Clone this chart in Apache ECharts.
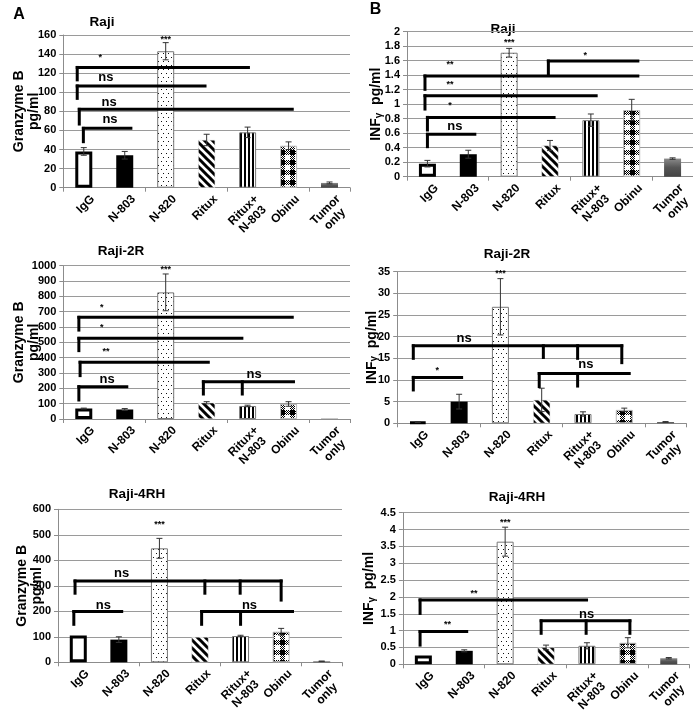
<!DOCTYPE html>
<html><head><meta charset="utf-8">
<script src="https://cdn.jsdelivr.net/npm/echarts@6/dist/echarts.min.js"></script>
<style>html,body{margin:0;padding:0;background:#fff}#c{width:693px;height:717px}</style>
</head><body><div id="c"></div>
<script>
const categories = ['IgG','N-803','N-820','Ritux','Ritux+\nN-803','Obinu','Tumor\nonly'];

// ---- Panel A: Granzyme B (pg/ml) ----
const gzbRajiValues = [38, 34, 143, 50, 58, 44, 5];
const gzbRajiErrors = [4, 4, 9, 6, 5.5, 4, 1];
const gzbRajiTicks = [0, 20, 40, 60, 80, 100, 120, 140, 160];
const gzbRajiBrackets = [
  {x1:-0.16, x2:4.02, y:126, drops:[[-0.16,113]], text:'*', tx:0.40, ty:136.6},
  {x1:-0.16, x2:2.96, y:106.6, drops:[[-0.16,93.6]], text:'ns', tx:0.54, ty:115.6},
  {x1:-0.11, x2:5.09, y:82.1, drops:[[-0.11,66.7]], text:'ns', tx:0.62, ty:89},
  {x1:-0.01, x2:1.15, y:62.2, drops:[[-0.01,48.2]], text:'ns', tx:0.64, ty:71.6},
  {text:'***', tx:2, ty:155.5}
];

const gzb2RValues = [68, 62, 826, 106, 85, 98, 3];
const gzb2RErrors = [3, 6, 120, 7, 5, 15, 0];
const gzb2RTicks = [0, 100, 200, 300, 400, 500, 600, 700, 800, 900, 1000];
const gzb2RBrackets = [
  {x1:-0.12, x2:5.09, y:663, drops:[[-0.12,580]], text:'*', tx:0.44, ty:728},
  {x1:-0.12, x2:3.86, y:526, drops:[[-0.12,446]], text:'*', tx:0.44, ty:598},
  {x1:-0.09, x2:3.04, y:370, drops:[[-0.09,283]], text:'**', tx:0.54, ty:439},
  {x1:-0.12, x2:1.05, y:211, drops:[[-0.12,124]], text:'ns', tx:0.57, ty:261},
  {x1:2.92, x2:5.12, y:243, drops:[[2.92,163],[3.87,163]], text:'ns', tx:4.16, ty:293},
  {text:'***', tx:2, ty:972}
];

const gzb4RHValues = [105, 89, 447, 99, 103, 120, 4];
const gzb4RHErrors = [0, 11, 39, 0, 3, 13, 1];
const gzb4RHTicks = [0, 100, 200, 300, 400, 500, 600];
const gzb4RHBrackets = [
  {x1:-0.08, x2:5.0, y:319, drops:[[-0.08,271],[3.12,271],[3.99,271],[5.0,244]], text:'ns', tx:1.07, ty:349},
  {x1:-0.11, x2:1.07, y:199, drops:[[-0.11,149]], text:'ns', tx:0.62, ty:225},
  {x1:3.04, x2:5.28, y:199, drops:[[3.04,149],[4.0,149]], text:'ns', tx:4.22, ty:225},
  {text:'***', tx:2, ty:539}
];

// ---- Panel B: INFγ (pg/ml) ----
const ifnRajiValues = [0.18, 0.31, 1.71, 0.43, 0.78, 0.92, 0.25];
const ifnRajiErrors = [0.045, 0.055, 0.06, 0.07, 0.085, 0.147, 0.01];
const ifnRajiTicks = [0, 0.2, 0.4, 0.6, 0.8, 1, 1.2, 1.4, 1.6, 1.8, 2];
const ifnRajiBrackets = [
  {x1:2.96, x2:5.15, y:1.595, drops:[[2.96,1.416]], text:'*', tx:3.86, ty:1.678},
  {x1:-0.06, x2:5.15, y:1.389, drops:[[-0.06,1.205]], text:'**', tx:0.55, ty:1.549},
  {x1:-0.06, x2:4.13, y:1.117, drops:[[-0.06,0.933]], text:'**', tx:0.55, ty:1.274},
  {x1:0.0, x2:3.10, y:0.818, drops:[[0.0,0.644]], text:'*', tx:0.55, ty:0.975},
  {x1:0.0, x2:1.16, y:0.584, drops:[[0.0,0.414]], text:'ns', tx:0.67, ty:0.699},
  {text:'***', tx:2, ty:1.848}
];

const ifn2RValues = [0.3, 5.0, 26.9, 5.4, 2.15, 3.1, 0.3];
const ifn2RErrors = [0.1, 1.7, 6.5, 2.7, 0.5, 0.4, 0.1];
const ifn2RTicks = [0, 5, 10, 15, 20, 25, 30, 35];
const ifn2RBrackets = [
  {x1:-0.11, x2:4.94, y:17.9, drops:[[-0.11,15.0],[3.04,15.2],[3.87,15.0],[4.94,14.0]], text:'ns', tx:1.12, ty:19.6},
  {x1:-0.11, x2:1.06, y:10.6, drops:[[-0.11,7.7]], text:'*', tx:0.47, ty:12.3},
  {x1:2.94, x2:5.12, y:11.5, drops:[[2.94,8.5],[3.87,8.6]], text:'ns', tx:4.07, ty:13.5},
  {text:'***', tx:2, ty:34.6}
];

const ifn4RHValues = [0.26, 0.40, 3.64, 0.50, 0.55, 0.64, 0.18];
const ifn4RHErrors = [0, 0.03, 0.43, 0.07, 0.09, 0.15, 0.02];
const ifn4RHTicks = [0, 0.5, 1, 1.5, 2, 2.5, 3, 3.5, 4, 4.5];
const ifn4RHBrackets = [
  {x1:-0.08, x2:3.99, y:1.91, drops:[[-0.08,1.51]], text:'**', tx:1.24, ty:2.11},
  {x1:-0.08, x2:1.06, y:0.97, drops:[[-0.08,0.57]], text:'**', tx:0.59, ty:1.17},
  {x1:2.88, x2:5.05, y:1.29, drops:[[2.88,0.92],[3.98,0.92],[5.05,0.92]], text:'ns', tx:3.99, ty:1.48},
  {text:'***', tx:2, ty:4.21}
];

const FONT = 'Liberation Sans, Arial, Helvetica, sans-serif';

// ---------- patterns ----------
function mk(w, h, draw){ const c=document.createElement('canvas'); c.width=w; c.height=h; const g=c.getContext('2d'); g.fillStyle='#fff'; g.fillRect(0,0,w,h); draw(g); return {image:c, repeat:'repeat'}; }
const dots = mk(5, 8, g=>{ g.fillStyle='#111'; g.fillRect(1,1,1,1); g.fillRect(3,5,1,1); });
const diag = mk(8, 8, g=>{ g.strokeStyle='#000'; g.lineWidth=3; g.beginPath(); g.moveTo(-2,-2); g.lineTo(10,10); g.moveTo(-2,6); g.lineTo(2,10); g.moveTo(6,-2); g.lineTo(10,2); g.stroke(); });
const vstripe = mk(4, 4, g=>{ g.fillStyle='#000'; g.fillRect(0,0,2,4); });
const gingham = mk(10, 10, g=>{
  g.fillStyle='#000'; g.fillRect(0,0,5,5);
  for(let y=0;y<10;y++) for(let x=0;x<10;x++){
    const inA = (x<5 && y>=5) || (x>=5 && y<5);
    if(inA && ((x+y)%2===0)) g.fillRect(x,y,1,1);
  }
});
const tumorGrad = new echarts.graphic.LinearGradient(0,0,0,1,[{offset:0,color:'#8a8a8a'},{offset:0.5,color:'#555'},{offset:1,color:'#444'}]);
const barStyles = [
  {color:'#fff', borderColor:'#000', borderWidth:3},
  {color:'#000'},
  {color:dots, borderColor:'#777', borderWidth:1},
  {color:diag, borderColor:'#ddd', borderWidth:0.5},
  {color:vstripe, borderColor:'#777', borderWidth:1},
  {color:gingham, borderColor:'#bbb', borderWidth:1},
  {color:tumorGrad}
];

const gzbName = 'Granzyme B\npg/ml';
const ifnName = 'INF{g|γ}  pg/ml';

const panels = [
  {values:gzbRajiValues, errors:gzbRajiErrors, ticks:gzbRajiTicks, brackets:gzbRajiBrackets, name:gzbName, title:'Raji'},
  {values:ifnRajiValues, errors:ifnRajiErrors, ticks:ifnRajiTicks, brackets:ifnRajiBrackets, name:ifnName, title:'Raji'},
  {values:gzb2RValues, errors:gzb2RErrors, ticks:gzb2RTicks, brackets:gzb2RBrackets, name:gzbName, title:'Raji-2R'},
  {values:ifn2RValues, errors:ifn2RErrors, ticks:ifn2RTicks, brackets:ifn2RBrackets, name:ifnName, title:'Raji-2R'},
  {values:gzb4RHValues, errors:gzb4RHErrors, ticks:gzb4RHTicks, brackets:gzb4RHBrackets, name:gzbName, title:'Raji-4RH'},
  {values:ifn4RHValues, errors:ifn4RHErrors, ticks:ifn4RHTicks, brackets:ifn4RHBrackets, name:ifnName, title:'Raji-4RH'}
];

// layout (pixels)
const layouts = [
  {left:63.3, top:35, width:286.7, height:152.7, gap:22, tx:102, ty:22.5},
  {left:407, top:31.7, width:286, height:145, gap:23, tx:503, ty:29},
  {left:63.3, top:265.7, width:286.7, height:153.3, gap:22, tx:121, ty:251.5},
  {left:397.2, top:271.7, width:289, height:151.6, gap:17.5, tx:507, ty:254.5},
  {left:58, top:509.3, width:284, height:153, gap:13, tx:137, ty:494},
  {left:402.9, top:512.7, width:286.3, height:151.6, gap:26, tx:517, ty:497}
];

// text measuring for centred multi-line category labels
const mctx = document.createElement('canvas').getContext('2d');
mctx.font = 'bold 12px "Liberation Sans", Arial, sans-serif';
const LABEL_LH = 13;

const grid=[], xAxis=[], yAxis=[], series=[], graphics=[];
const axisGray = '#8c8c8c';
panels.forEach((p, i) => {
  const L = layouts[i];
  grid.push({left:L.left, top:L.top, width:L.width, height:L.height, containLabel:false});
  xAxis.push({gridIndex:i, type:'category', data:categories,
    axisLine:{onZero:false, lineStyle:{color:axisGray, width:1}},
    axisTick:{show:true, length:4, lineStyle:{color:axisGray}},
    axisLabel:{show:false}});
  xAxis.push({gridIndex:i, type:'value', min:-0.5, max:6.5, show:false,
    axisLine:{show:false, onZero:false}, splitLine:{show:false}, axisTick:{show:false}, axisLabel:{show:false}});
  const t = p.ticks;
  yAxis.push({gridIndex:i, type:'value', min:t[0], max:t[t.length-1], interval:t[1]-t[0],
    axisLine:{show:true, onZero:false, lineStyle:{color:axisGray}},
    axisTick:{show:true, length:4, lineStyle:{color:axisGray}},
    splitLine:{lineStyle:{color:'#9a9a9a', width:1}},
    axisLabel:{fontSize:11, fontWeight:'bold', color:'#000', fontFamily:FONT, margin:7,
      formatter:v=>String(Math.round(v*100)/100)},
    name:p.name, nameLocation:'middle', nameRotate:90, nameGap:L.gap, nameMoveOverlap:false,
    nameTextStyle:{fontSize:14, fontWeight:'bold', color:'#000', fontFamily:FONT, lineHeight:15,
      rich:{g:{fontSize:10, fontWeight:'bold', fontFamily:FONT, color:'#000', verticalAlign:'bottom', padding:[3,0,0,0]}}}});
  series.push({type:'bar', xAxisIndex:2*i, yAxisIndex:i, barWidth:17, silent:true,
    data:p.values.map((v,k)=>({value:v, itemStyle:barStyles[k]}))});
  series.push({type:'custom', xAxisIndex:2*i, yAxisIndex:i, silent:true, z:3,
    data:p.values.map((v,k)=>[k, v, p.errors[k]]),
    renderItem:(params, api)=>{
      const x=api.value(0), v=api.value(1), e=api.value(2);
      if(!e) return null;
      const a=api.coord([x, v+e]), b=api.coord([x, v-e]);
      const st={stroke:'#333', lineWidth:1};
      return {type:'group', children:[
        {type:'line', shape:{x1:a[0], y1:a[1], x2:b[0], y2:b[1]}, style:st},
        {type:'line', shape:{x1:a[0]-3, y1:a[1], x2:a[0]+3, y2:a[1]}, style:st},
        {type:'line', shape:{x1:b[0]-3, y1:b[1], x2:b[0]+3, y2:b[1]}, style:st}]};
    }});
  // rotated category labels (first line ends at anchor, further lines centred under it)
  const yMin = t[0];
  series.push({type:'custom', xAxisIndex:2*i, yAxisIndex:i, silent:true, z:6, clip:false,
    data:categories.map((c,k)=>[k, yMin]),
    renderItem:(params, api)=>{
      const a=api.coord([api.value(0), api.value(1)]);
      const lines = categories[params.dataIndex].split('\n');
      const w0 = mctx.measureText(lines[0]).width;
      const children = lines.map((ln, j)=>({type:'text', x: j===0?0:-w0/2, y:j*LABEL_LH,
        style:{text:ln, fill:'#000', fontFamily:FONT, fontWeight:'bold', fontSize:12,
          align: j===0?'right':'center', verticalAlign:'middle'}}));
      return {type:'group', x:a[0]+9, y:a[1]+9.5, rotation:Math.PI/4, children};
    }});
  const segs=[];
  p.brackets.forEach(br=>{
    if(br.x1===undefined) return;
    segs.push([br.x1, br.y, br.x2, br.y]);
    br.drops.forEach(d=>segs.push([d[0], br.y, d[0], d[1]]));
  });
  series.push({type:'custom', xAxisIndex:2*i+1, yAxisIndex:i, silent:true, z:4, data:segs,
    renderItem:(params, api)=>{
      const a=api.coord([api.value(0), api.value(1)]), b=api.coord([api.value(2), api.value(3)]);
      return {type:'line', shape:{x1:a[0], y1:a[1], x2:b[0], y2:b[1]}, style:{stroke:'#000', lineWidth:3, lineCap:'square'}};
    }});
  const labs = p.brackets.map(br=>[br.tx, br.ty]);
  const texts = p.brackets.map(br=>br.text);
  series.push({type:'custom', xAxisIndex:2*i+1, yAxisIndex:i, silent:true, z:5, data:labs,
    renderItem:(params, api)=>{
      const a=api.coord([api.value(0), api.value(1)]);
      const s=texts[params.dataIndex];
      return {type:'text', x:a[0], y:a[1], style:{text:s, fill:'#000', fontFamily:FONT, fontWeight:'bold',
        fontSize: s==='ns'?13:9, align:'center', verticalAlign:'middle'}};
    }});
  graphics.push({type:'text', x:L.tx, y:L.ty, style:{text:p.title, fill:'#000', fontFamily:FONT, fontWeight:'bold', fontSize:13.5, align:'center', verticalAlign:'middle'}});
});
graphics.push({type:'text', x:19, y:14.5, style:{text:'A', fill:'#000', fontFamily:FONT, fontWeight:'bold', fontSize:16, align:'center', verticalAlign:'middle'}});
graphics.push({type:'text', x:375.5, y:9.5, style:{text:'B', fill:'#000', fontFamily:FONT, fontWeight:'bold', fontSize:16, align:'center', verticalAlign:'middle'}});

const chart = echarts.init(document.getElementById('c'), null, {renderer:'canvas'});
chart.setOption({animation:false, backgroundColor:'#fff', grid, xAxis, yAxis, series, graphic:graphics});
</script></body></html>
